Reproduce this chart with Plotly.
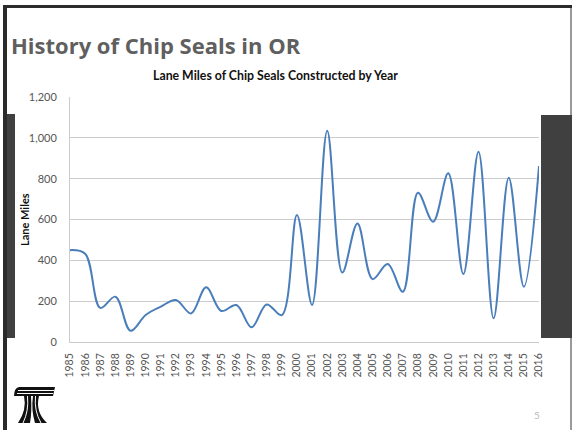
import plotly.graph_objects as go

years = [str(y) for y in range(1985, 2017)]
lane_miles = [450, 432, 167, 222, 55, 132, 173, 206, 140, 268, 152, 181, 72, 184, 132, 622,
              181, 1035, 340, 581, 308, 382, 246, 731, 589, 826, 333, 932, 116, 805, 271, 862]
y_ticks = [0, 200, 400, 600, 800, 1000, 1200]
y_tick_labels = ["0", "200", "400", "600", "800", "1,000", "1,200"]

W, H = 572, 430
L, R, T, B = 70, 539, 97, 342


def px(x):
    return (x - L) / (R - L)


def py(y):
    return (B - y) / (B - T)


def rect(x0, y0, x1, y1, color):
    return dict(type="rect", xref="paper", yref="paper", x0=px(x0), x1=px(x1),
                y0=py(y1), y1=py(y0), fillcolor=color, line=dict(width=0), layer="above")


def path(cmds, fill=None, line_color=None, lw=0):
    out = []
    for c in cmds:
        op = c[0]
        pts = c[1:]
        s = op
        s += " ".join(f"{px(pts[i]):.5f},{py(pts[i+1]):.5f}" for i in range(0, len(pts), 2))
        out.append(s)
    d = " ".join(out)
    shp = dict(type="path", xref="paper", yref="paper", path=d, layer="above",
               line=dict(width=lw, color=line_color or "rgba(0,0,0,0)"))
    if fill:
        shp["fillcolor"] = fill
    return shp


fig = go.Figure()
fig.add_trace(go.Scatter(
    x=years, y=lane_miles, mode="lines",
    line=dict(color="#4a7ebb", width=2, shape="spline", smoothing=1.0),
    hoverinfo="x+y", showlegend=False,
))

shapes = [
    # slide frame
    rect(3, 5, 572, 8, "#2b2b2b"),
    rect(3, 5, 7, 430, "#2b2b2b"),
    rect(570, 8, 572, 430, "#9a9a9a"),
    # side bars
    rect(7, 114, 15, 338, "#404040"),
    rect(541, 115, 572, 338, "#404040"),
    # logo
    path([("M", 19, 387), ("L", 55, 387), ("L", 53, 396), ("L", 39, 396),
          ("Q", 35, 412, 47, 423), ("L", 35, 423), ("Q", 31, 410, 33, 396),
          ("L", 31, 396), ("Q", 32, 412, 30, 423), ("L", 18, 423),
          ("Q", 27, 410, 24, 396), ("L", 14, 396), ("Q", 14, 388, 19, 387), ("Z",)],
         fill="#111111"),
    path([("M", 18, 390.5), ("L", 54, 390.5)], line_color="white", lw=1),
    path([("M", 17, 393.5), ("L", 53, 393.5)], line_color="white", lw=1),
    path([("M", 27.5, 396), ("Q", 29, 411, 23, 423)], line_color="white", lw=1),
    path([("M", 35.5, 396), ("Q", 34, 411, 41, 423)], line_color="white", lw=1),
]

annotations = [
    dict(text="<b>History of Chip Seals in OR</b>", xref="paper", yref="paper",
         x=px(9), y=py(45), xanchor="left", yanchor="middle", showarrow=False,
         font=dict(family="Open Sans", size=22, color="#5f5f5f")),
    dict(text="<b>Lane Miles of Chip Seals Constructed by Year</b>", xref="paper", yref="paper",
         x=px(275), y=py(75), xanchor="center", yanchor="middle", showarrow=False,
         font=dict(family="Lato", size=12.3, color="#111111")),
    dict(text="<b>Lane Miles</b>", xref="paper", yref="paper", textangle=-90,
         x=px(24), y=py(220), xanchor="center", yanchor="middle", showarrow=False,
         font=dict(family="Lato", size=11, color="#111111")),
    dict(text="5", xref="paper", yref="paper",
         x=px(537), y=py(415), xanchor="center", yanchor="middle", showarrow=False,
         font=dict(family="Lato", size=10, color="#b8b8b8")),
]

fig.update_layout(
    width=W, height=H,
    margin=dict(l=L, r=W - R, t=T, b=H - B, pad=0),
    paper_bgcolor="white", plot_bgcolor="white",
    shapes=shapes, annotations=annotations,
    xaxis=dict(type="category", tickangle=-90, showgrid=False, showline=True,
               linecolor="#cccccc", linewidth=1, ticks="", ticklabelstandoff=6,
               tickfont=dict(family="Lato", size=10.5, color="#555555"), fixedrange=True),
    yaxis=dict(range=[0, 1200], tickvals=y_ticks, ticktext=y_tick_labels,
               showgrid=True, gridcolor="#cccccc", gridwidth=1, zeroline=False,
               showline=True, linecolor="#cccccc", linewidth=1, ticks="",
               ticklabelstandoff=10,
               tickfont=dict(family="Lato", size=11, color="#555555"), fixedrange=True),
)

fig.write_html("out.html",
               config={"displayModeBar": False},
               post_script="document.body.style.margin='0';document.body.style.overflow='hidden';")
